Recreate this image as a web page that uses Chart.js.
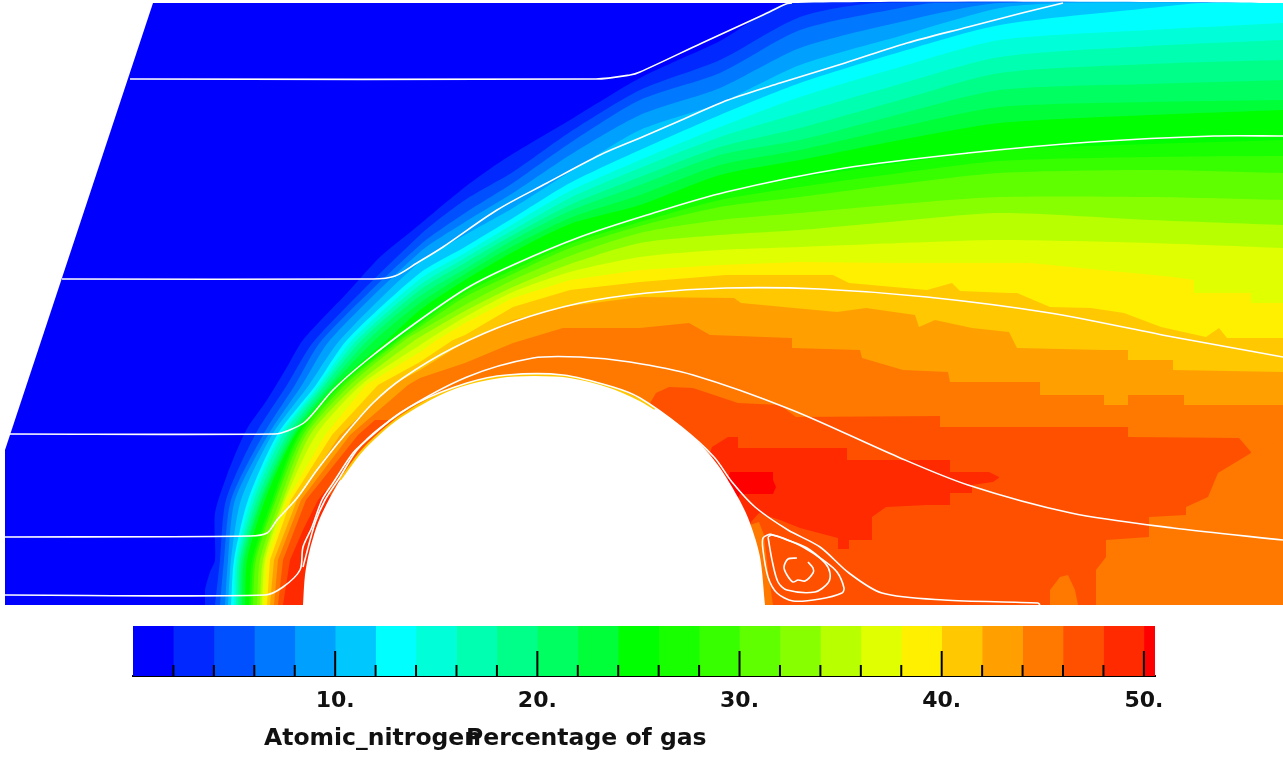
<!DOCTYPE html>
<html>
<head>
<meta charset="utf-8">
<script src="https://cdn.jsdelivr.net/npm/chart.js@4/dist/chart.umd.min.js"></script>
<style>
  html, body { margin: 0; padding: 0; background: #fff; overflow: hidden; }
  #page { position: relative; width: 1283px; height: 757px; }
  canvas { position: absolute; left: 0; display: block; }
  #fieldChart { top: 0; }
  #barChart { top: 610px; }
  .label { position: absolute; top: 722px; font: bold 23.5px "DejaVu Sans", sans-serif; color: #111; white-space: nowrap; line-height: 30px; }
</style>
</head>
<body>
<div id="page">
  <canvas id="fieldChart" width="1283" height="605"></canvas>
  <canvas id="barChart" width="1283" height="147"></canvas>
  <div class="label" style="left:264px">Atomic_nitrogen</div>
  <div class="label" style="left:466px">Percentage of gas</div>
</div>
<script>
// colour of each 2 % band
const bandColors = ['#0000ff', '#0028ff', '#0050ff', '#0078ff', '#00a0ff', '#00c8ff', '#00ffff', '#00ffd8', '#00ffb0', '#00ff88', '#00ff60', '#00ff38', '#00ff00', '#18ff00', '#38ff00', '#60ff00', '#88ff00', '#b8ff00', '#e0ff00', '#fff000', '#ffc800', '#ffa000', '#ff7800', '#ff5000', '#ff2a00', '#ff0000'];
const bandWidths = [2, 2, 2, 2, 2, 2, 2, 2, 2, 2, 2, 2, 2, 2, 2, 2, 2, 2, 2, 2, 2, 2, 2, 2, 2, 0.55];
const minorTicks = [2, 4, 6, 8, 12, 14, 16, 18, 22, 24, 26, 28, 32, 34, 36, 38, 42, 44, 46, 48];
const majorTicks = [10, 20, 30, 40, 50];

// outline of the flow domain
const domain = [[5,605],[5,450],[153,3],[1283,3]];

// lower edge of each band: everything under the line is at least this percentage
const level_2 = [[205,605],[205,590],[210,572],[215,560],[215,513],[227,475],[237,450],[248,427],[267,400],[287,367],[303,340],[347,293],[380,257],[413,230],[465,187],[503,160],[570,120],[640,78],[720,41],[790,3],[1283,3]];
const level_4 = [[215,605],[220,560],[226,500],[255,435],[287,385],[315,340],[420,235],[465,200],[513,172],[570,132],[640,90],[720,60],[800,17],[878,3],[1283,3]];
const level_6 = [[220,605],[224,560],[231,500],[263,435],[295,385],[322,340],[420,245],[465,213],[513,183],[570,143],[640,100],[720,73],[800,30],[900,8],[935,3],[1283,3]];
const level_8 = [[225,605],[228,560],[235,500],[268,435],[302,385],[330,340],[420,252],[465,222],[513,193],[570,155],[640,115],[720,88],[800,48],[900,22],[1000,3],[1283,3]];
const level_10 = [[228,605],[231,560],[241,500],[272,435],[309,385],[340,340],[420,262],[465,235],[513,208],[570,172],[640,130],[720,103],[800,65],[900,36],[1000,8],[1067,3],[1283,3]];
const level_12 = [[231,605],[234,560],[248,500],[277,435],[316,385],[347,340],[420,273],[465,247],[513,218],[570,183],[640,150],[720,115],[800,83],[900,52],[1000,25],[1150,8],[1202,3],[1283,3]];
const level_14 = [[234,605],[236,560],[251,500],[280,435],[319,385],[352,340],[420,279],[465,253],[513,224],[570,191],[640,160],[720,127],[800,97],[900,67],[1000,40],[1150,30],[1283,23]];
const level_16 = [[236,605],[238,560],[254,500],[283,435],[322,385],[357,340],[420,285],[465,258],[513,230],[570,198],[640,168],[720,137],[800,113],[900,84],[1000,57],[1150,46],[1283,40]];
const level_18 = [[238,605],[240,560],[257,500],[287,435],[325,385],[362,340],[420,290],[465,263],[513,235],[570,205],[640,177],[720,147],[800,128],[900,100],[1000,73],[1150,64],[1283,60]];
const level_20 = [[240,605],[242,560],[260,500],[290,435],[329,385],[368,340],[420,296],[465,269],[513,240],[570,211],[640,185],[720,155],[800,140],[900,114],[1000,90],[1150,84],[1283,80]];
const level_22 = [[242,605],[244,560],[262,500],[293,435],[332,385],[375,340],[420,303],[465,274],[513,246],[570,218],[640,195],[720,165],[800,150],[900,127],[1000,107],[1150,102],[1283,100]];
const level_24 = [[245,605],[247,560],[265,500],[295,435],[336,385],[387,340],[420,310],[465,280],[513,252],[570,224],[640,205],[720,175],[800,160],[900,140],[1000,123],[1150,115],[1283,110]];
const level_26 = [[249,605],[252,560],[272,500],[298,435],[340,385],[396,340],[420,322],[465,289],[513,266],[570,240],[640,218],[720,193],[800,178],[900,163],[1000,150],[1150,144],[1283,140]];
const level_28 = [[251,605],[254,560],[274,500],[300,435],[342,385],[398,340],[420,324],[465,293],[513,270],[570,244],[640,222],[720,200],[800,187],[900,173],[1000,161],[1150,157],[1283,156]];
const level_30 = [[253,605],[256,560],[276,500],[303,435],[345,385],[401,340],[420,327],[465,297],[513,274],[570,248],[640,226],[720,207],[800,197],[900,184],[1000,173],[1150,170],[1283,173]];
const level_32 = [[257,605],[260,560],[280,500],[306,435],[350,385],[405,340],[420,331],[465,305],[513,280],[570,256],[640,233],[720,220],[800,213],[900,204],[1000,197],[1150,197],[1283,200]];
const level_34 = [[260,605],[263,560],[283,500],[310,435],[356,385],[415,340],[420,337],[465,311],[513,287],[570,264],[640,243],[720,235],[800,230],[900,221],[1000,213],[1150,220],[1283,225]];
const level_36 = [[262,605],[265,560],[285,500],[316,435],[361,385],[420,345],[465,317],[513,292],[570,272],[640,257],[720,250],[800,247],[900,243],[1000,240],[1150,243],[1283,248]];
const level_38 = [[264,605],[267,560],[287,500],[325,435],[366,385],[420,352],[437,340],[465,323],[513,298],[570,280],[640,270],[720,265],[800,262],[900,263],[1030,263],[1173,277],[1194,280],[1194,293],[1251,293],[1251,303],[1283,303]];
const level_40 = [[267,605],[270,560],[291,500],[332,435],[378,385],[420,362],[453,340],[465,335],[513,307],[570,290],[640,282],[726,275],[763,275],[833,275],[849,283],[927,290],[952,283],[960,291],[1009,293],[1017,293],[1050,307],[1091,308],[1124,313],[1161,327],[1206,337],[1219,328],[1227,338],[1283,338]];
const level_42 = [[270,605],[274,560],[297,500],[340,435],[392,385],[420,370],[465,342],[513,320],[570,306],[640,297],[734,298],[741,303],[837,312],[866,308],[915,315],[919,327],[935,320],[972,328],[1009,332],[1017,348],[1104,350],[1128,350],[1128,360],[1173,360],[1173,370],[1283,372]];
const level_44 = [[274,605],[278,560],[301,500],[350,435],[408,385],[420,378],[465,363],[513,343],[563,328],[640,328],[689,323],[710,335],[792,338],[792,348],[860,350],[862,358],[903,370],[948,372],[950,382],[1040,382],[1040,395],[1104,395],[1104,405],[1128,405],[1128,395],[1184,395],[1184,405],[1283,405]];
// front of the cylinder and wake are separate patches for the hottest bands
const level_46_front = [[278,605],[283,560],[306,500],[358,435],[375,420],[400,420],[420,470]];
const level_46_wake = [[640,420],[656,393],[669,387],[693,388],[714,395],[738,403],[780,405],[796,417],[940,416],[940,427],[1128,427],[1128,437],[1239,438],[1251,452]];
const level_44_tail = [[1096,605],[1096,570],[1106,557],[1106,540],[1149,537],[1149,517],[1186,515],[1186,507],[1208,497],[1218,473],[1251,453],[1283,440]];
const level_48_front = [[283,605],[290,560],[303,530],[318,500],[326,490],[350,520]];
const level_48_wake = [[700,480],[712,447],[728,437],[738,437],[738,448],[847,448],[847,460],[950,460],[950,472],[989,472],[999,477]];
const level_50_wake = [[725,490],[730,472],[773,472],[773,480],[776,487]];
const level_48_under = [[728,520],[740,494],[773,494],[776,487]];
const level_46_under = [[745,560],[751,522],[759,513],[780,520],[800,528],[838,538],[838,549],[849,549],[849,540],[872,540],[872,517],[886,507],[927,505],[950,505],[950,493],[972,493],[972,485],[993,482],[1000,477]];
const level_44_strip = [[750,605],[750,525],[759,522],[764,535],[768,570],[773,605]];
const level_44_spot = [[1050,605],[1050,590],[1060,577],[1068,575],[1075,590],[1078,605]];

// the cylinder itself
const cylinder = [[303,605],[305,575],[310,549],[320,518],[340,480],[360,453],[380,433],[400,417],[430,399],[460,386],[500,377],[534,375],[570,377],[610,387],[640,400],[670,418],[700,444],[720,468],[740,501],[750,523],[760,557],[765,605]];
const rim = [[340,480],[360,453],[380,433],[400,417],[430,399],[460,386],[500,377],[534,375],[570,377],[610,387],[640,400],[655,409]];

// streamlines
const stream_a = [[130,79],[596,79],[630,75],[640,72],[702,43],[763,15],[786,4],[792,3]];
const stream_b = [[62,279],[373,279],[395,276],[417,263],[443,247],[497,210],[547,183],[600,155],[640,138],[677,122],[728,100],[780,83],[845,63],[907,43],[968,27],[1022,13],[1063,3]];
const stream_c = [[7,434],[275,434],[287,431],[305,422],[333,390],[367,360],[417,322],[467,288],[513,265],[580,237],[647,215],[726,192],[845,168],[968,153],[1091,142],[1214,136],[1283,136]];
const stream_d = [[5,537],[250,536],[267,533],[277,520],[297,498],[317,470],[343,437],[373,403],[403,378],[453,348],[513,322],[580,303],[647,293],[726,288],[820,289],[927,297],[1050,313],[1173,337],[1283,357]];
const stream_e = [[5,595],[265,595],[283,587],[300,570],[303,547],[312,527],[322,500],[333,483],[353,453],[367,440],[400,413],[467,377],[533,358],[580,357],[630,362],[693,375],[792,410],[898,457],[968,485],[1071,513],[1173,528],[1283,540]];
const stream_f = [[303,567],[315,523],[325,500],[340,477],[357,450],[380,428],[417,403],[467,383],[507,375],[563,375],[613,387],[640,398],[681,427],[714,457],[732,482],[755,507],[788,530],[820,547],[849,573],[882,593],[944,600],[1038,603],[1040,605]];
const vortex_outer = [[770,534],[763,538],[763,550],[768,577],[777,593],[793,601],[820,599],[842,593],[844,588],[837,572],[823,560],[803,547],[783,538],[770,534]];
const vortex_middle = [[768,537],[772,560],[778,582],[787,590],[815,592],[828,583],[830,573],[825,563],[807,548],[787,540],[772,535],[768,537]];
const vortex_inner = [[797,558],[788,559],[784,567],[787,575],[793,582],[798,580],[805,581],[813,573],[813,568],[808,562]];

// third value: curve tension, the stepped bands in the wake stay straight
const levels = [
    [domain, '#0000ff', 0], [level_2, '#0028ff', 0.25], [level_4, '#0050ff', 0.25], [level_6, '#0078ff', 0.25], [level_8, '#00a0ff', 0.25], [level_10, '#00c8ff', 0.25],
    [level_12, '#00ffff', 0.25], [level_14, '#00ffd8', 0.25], [level_16, '#00ffb0', 0.25], [level_18, '#00ff88', 0.25], [level_20, '#00ff60', 0.25], [level_22, '#00ff38', 0.25],
    [level_24, '#00ff00', 0.25], [level_26, '#18ff00', 0.25], [level_28, '#38ff00', 0.25], [level_30, '#60ff00', 0.25], [level_32, '#88ff00', 0.25], [level_34, '#b8ff00', 0.25],
    [level_36, '#e0ff00', 0.25], [level_38, '#fff000', 0], [level_40, '#ffc800', 0], [level_42, '#ffa000', 0], [level_44, '#ff7800', 0],
    [level_46_front, '#ff5000', 0], [level_46_wake, '#ff5000', 0], [level_44_tail, '#ff7800', 0], [level_48_front, '#ff2a00', 0], [level_48_wake, '#ff2a00', 0],
    [level_50_wake, '#ff0000', 0], [level_48_under, '#ff2a00', 0], [level_46_under, '#ff5000', 0], [level_44_strip, '#ff7800', 0], [level_44_spot, '#ff7800', 0],
    [cylinder, '#ffffff', 0.3]
];
const streams = [stream_a, stream_b, stream_c, stream_d, stream_e, stream_f, vortex_outer, vortex_middle, vortex_inner];

// Chart.js draws dataset 0 last, so the list is built bottom-up and reversed
const fieldDatasets = levels.map(function (l) {
    return { data: l[0], showLine: true, pointRadius: 0, tension: l[2], borderWidth: 1, borderColor: 'transparent', backgroundColor: l[1], fill: 'start' };
});
fieldDatasets.push({ data: rim, showLine: true, pointRadius: 0, tension: 0.3, borderWidth: 2, borderColor: '#ffc800', fill: false });
streams.forEach(function (s) {
    fieldDatasets.push({ data: s, showLine: true, pointRadius: 0, tension: 0.3, borderWidth: 1.6, borderColor: '#ffffff', fill: false });
});

new Chart(document.getElementById('fieldChart'), {
    type: 'scatter',
    data: { datasets: fieldDatasets.reverse() },
    options: {
        responsive: false,
        animation: false,
        layout: { padding: 0 },
        plugins: { legend: { display: false }, tooltip: { enabled: false } },
        scales: {
            x: { type: 'linear', display: false, min: 0, max: 1283 },
            y: { type: 'linear', display: false, min: 0, max: 605, reverse: true }
        }
    }
});

// tick marks stand inside the colour bar
const barTicks = {
    id: 'barTicks',
    afterDatasetsDraw: function (chart) {
        const ctx = chart.ctx, x = chart.scales.x, bottom = chart.chartArea.bottom;
        ctx.save();
        ctx.strokeStyle = '#000';
        ctx.lineWidth = 2;
        minorTicks.concat(majorTicks).forEach(function (v) {
            const px = x.getPixelForValue(v);
            ctx.beginPath();
            ctx.moveTo(px, bottom);
            ctx.lineTo(px, bottom - (majorTicks.includes(v) ? 25 : 11));
            ctx.stroke();
        });
        ctx.restore();
    }
};

new Chart(document.getElementById('barChart'), {
    type: 'bar',
    data: {
        labels: ['Percentage of gas'],
        datasets: bandWidths.map(function (w, i) {
            return { data: [w], backgroundColor: bandColors[i], barPercentage: 1, categoryPercentage: 1, borderWidth: 0 };
        })
    },
    options: {
        indexAxis: 'y',
        responsive: false,
        animation: false,
        layout: { padding: { left: 133, right: 128, top: 16, bottom: 31 } },
        plugins: { legend: { display: false }, tooltip: { enabled: false } },
        scales: {
            x: {
                stacked: true,
                min: 0,
                max: 50.55,
                afterBuildTicks: function (axis) {
                    axis.ticks = majorTicks.map(function (v) { return { value: v }; });
                },
                grid: { display: false, drawTicks: false },
                border: { display: true, color: '#000', width: 2 },
                ticks: {
                    autoSkip: false,
                    maxRotation: 0,
                    padding: 12,
                    color: '#111',
                    font: { family: 'DejaVu Sans', size: 22, weight: 'bold' },
                    callback: function (v) { return v + '.'; }
                }
            },
            y: { stacked: true, display: false }
        }
    },
    plugins: [barTicks]
});
</script>
</body>
</html>
